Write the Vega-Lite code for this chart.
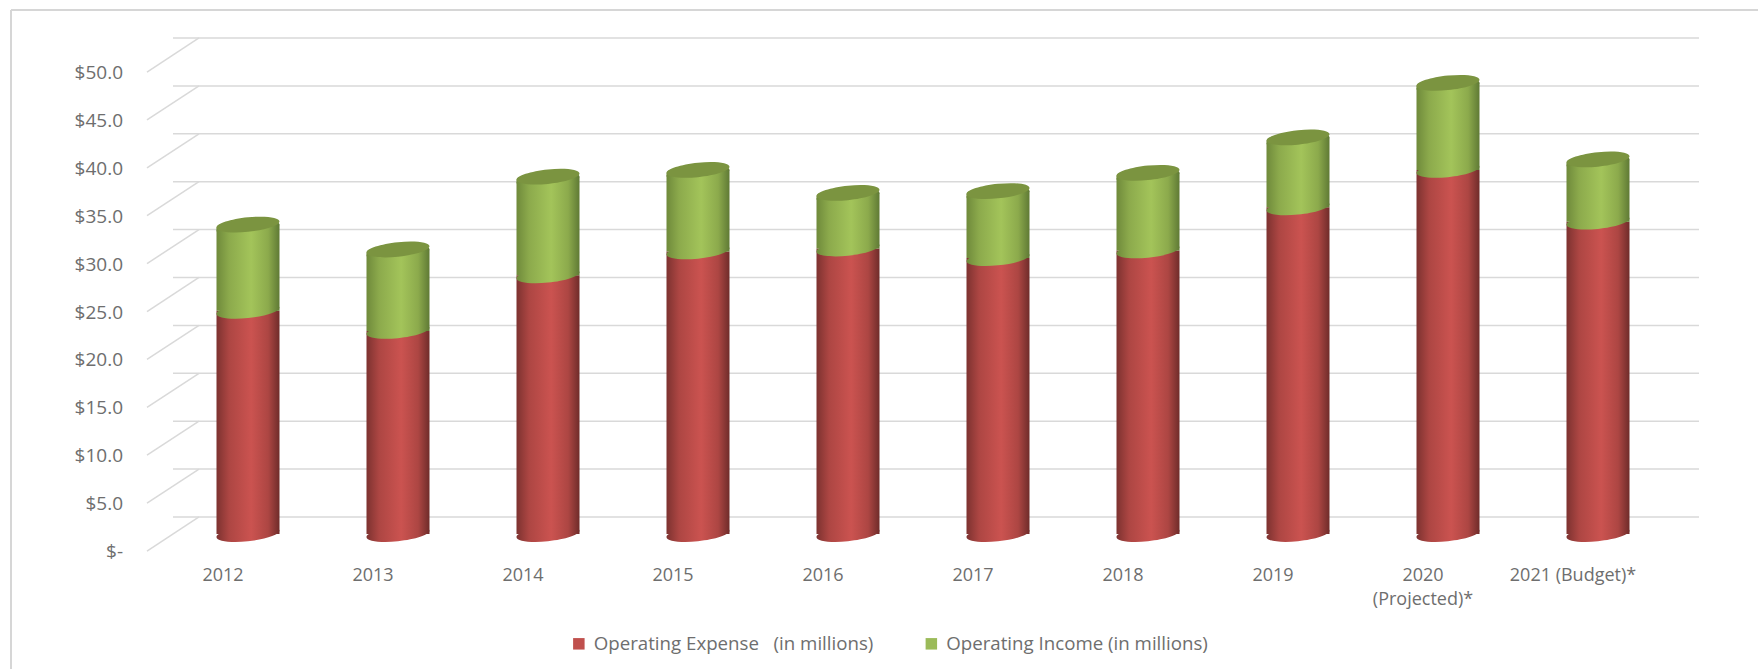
{
  "$schema": "https://vega.github.io/schema/vega-lite/v6.json",
  "width": 1500,
  "height": 479,
  "autosize": "none",
  "padding": {"left": 173, "top": 55, "right": 85, "bottom": 135},
  "background": "white",
  "config": {"view": {"stroke": null}, "font": "Open Sans"},
  "datasets": {
    "finance": [
      {"year": "2012", "expense": 23.3, "income": 9.0, "total": 32.3},
      {"year": "2013", "expense": 21.2, "income": 8.5, "total": 29.7},
      {"year": "2014", "expense": 27.0, "income": 10.3, "total": 37.3},
      {"year": "2015", "expense": 29.5, "income": 8.5, "total": 38.0},
      {"year": "2016", "expense": 29.8, "income": 5.8, "total": 35.6},
      {"year": "2017", "expense": 28.8, "income": 7.0, "total": 35.8},
      {"year": "2018", "expense": 29.6, "income": 8.1, "total": 37.7},
      {"year": "2019", "expense": 34.1, "income": 7.3, "total": 41.4},
      {"year": "2020 (Projected)*", "expense": 38.0, "income": 9.1, "total": 47.1},
      {"year": "2021 (Budget)*", "expense": 32.6, "income": 6.5, "total": 39.1}
    ],
    "levels": [
      {"level": 0}, {"level": 5}, {"level": 10}, {"level": 15}, {"level": 20}, {"level": 25},
      {"level": 30}, {"level": 35}, {"level": 40}, {"level": 45}, {"level": 50}
    ],
    "series": [
      {"series": "Operating Expense\u00a0\u00a0\u00a0(in millions)"},
      {"series": "Operating Income (in millions)"}
    ]
  },
  "data": {"name": "finance"},
  "layer": [
    {
      "data": {"name": "levels"},
      "mark": {"type": "rule", "color": "#d9d9d9", "strokeWidth": 1.5, "xOffset": 26, "x2Offset": 26, "yOffset": -17},
      "encoding": {"y": {"field": "level", "type": "quantitative", "scale": {"domain": [0, 50], "nice": false, "zero": false}, "axis": null}}
    },
    {
      "data": {"values": [{"edge": 54.7}]},
      "mark": {"type": "rule", "color": "#d6d6d6", "strokeWidth": 2, "xOffset": -162, "x2Offset": 160},
      "encoding": {
        "x": {"datum": "2012", "type": "nominal", "bandPosition": 0},
        "x2": {"datum": "2021 (Budget)*"},
        "y": {"field": "edge", "type": "quantitative"}
      }
    },
    {
      "data": {"values": [{"edge": 54.7}]},
      "mark": {"type": "rule", "color": "#d6d6d6", "strokeWidth": 2, "xOffset": -162},
      "encoding": {
        "x": {"datum": "2012", "type": "nominal", "bandPosition": 0},
        "y": {"field": "edge", "type": "quantitative"},
        "y2": {"datum": -15}
      }
    },
    {
      "mark": {"type": "bar", "width": 63, "fill": {"gradient": "linear", "x1": 0, "x2": 1, "y1": 0, "y2": 0, "stops": [{"offset": 0, "color": "#7d3230"}, {"offset": 0.2, "color": "#ad4643"}, {"offset": 0.55, "color": "#cb5350"}, {"offset": 0.82, "color": "#ad4643"}, {"offset": 1, "color": "#6f2c2a"}]}},
      "encoding": {
        "x": {
          "field": "year",
          "type": "nominal",
          "sort": null,
          "scale": {"domain": ["2012", "2013", "2014", "2015", "2016", "2017", "2018", "2019", "2020 (Projected)*", "2021 (Budget)*"], "paddingInner": 0, "paddingOuter": 0},
          "axis": {
            "title": null,
            "domain": false,
            "ticks": false,
            "grid": false,
            "bandPosition": 0.5,
            "labelAlign": "center",
            "labelAngle": 0,
            "labelFont": "Open Sans",
            "labelFontSize": 18,
            "labelColor": "#6e6e6e",
            "labelOffset": -25,
            "labelPadding": 32,
            "labelBaseline": "top",
            "labelLineHeight": 24,
            "labelLimit": 0,
            "labelOverlap": false,
            "labelExpr": "datum.label == '2020 (Projected)*' ? ['2020', '(Projected)*'] : datum.label"
          }
        },
        "y": {"field": "expense", "type": "quantitative"},
        "y2": {"datum": 0}
      }
    },
    {
      "data": {"name": "levels"},
      "mark": {"type": "point", "shape": "M-1,0.654L1,-0.654", "size": 2704, "filled": false, "stroke": "#d9d9d9", "strokeWidth": 1.5, "opacity": 1},
      "encoding": {
        "x": {"datum": "2012", "type": "nominal", "bandPosition": 0},
        "y": {"field": "level", "type": "quantitative"}
      }
    },
    {
      "data": {"name": "levels"},
      "mark": {"type": "text", "align": "right", "baseline": "middle", "font": "Open Sans", "fontSize": 19, "fill": "#6e6e6e", "dx": -50, "dy": 18},
      "encoding": {
        "x": {"datum": "2012", "type": "nominal", "bandPosition": 0},
        "y": {"field": "level", "type": "quantitative"},
        "text": {"condition": {"test": "datum.level === 0", "value": "$-\u00a0\u00a0"}, "field": "level", "type": "quantitative", "format": "$.1f"}
      }
    },
    {
      "mark": {"type": "point", "shape": "M-1,0.1C-1,-0.027,-0.5523,-0.1748,0,-0.23C0.5523,-0.2852,1,-0.227,1,-0.1C1,0.027,0.5523,0.1748,0,0.23C-0.5523,0.2852,-1,0.227,-1,0.1Z", "size": 3969, "filled": true, "opacity": 1, "fill": {"gradient": "linear", "x1": 0, "x2": 1, "y1": 0, "y2": 0, "stops": [{"offset": 0, "color": "#7d3230"}, {"offset": 0.2, "color": "#ad4643"}, {"offset": 0.55, "color": "#cb5350"}, {"offset": 0.82, "color": "#ad4643"}, {"offset": 1, "color": "#6f2c2a"}]}},
      "encoding": {"x": {"field": "year", "type": "nominal"}, "y": {"datum": 0, "type": "quantitative"}}
    },
    {
      "mark": {"type": "point", "shape": "M-1,0.1C-1,-0.027,-0.5523,-0.1748,0,-0.23C0.5523,-0.2852,1,-0.227,1,-0.1C1,0.027,0.5523,0.1748,0,0.23C-0.5523,0.2852,-1,0.227,-1,0.1Z", "size": 3969, "filled": true, "opacity": 1, "fill": {"gradient": "linear", "x1": 0, "x2": 1, "y1": 0, "y2": 0, "stops": [{"offset": 0, "color": "#6f8a3b"}, {"offset": 0.2, "color": "#8caa4c"}, {"offset": 0.55, "color": "#a3c45a"}, {"offset": 0.82, "color": "#8caa4c"}, {"offset": 1, "color": "#5f7a35"}]}},
      "encoding": {"x": {"field": "year", "type": "nominal"}, "y": {"field": "expense", "type": "quantitative"}}
    },
    {
      "mark": {"type": "bar", "width": 63, "cornerRadiusTopLeft": 4, "fill": {"gradient": "linear", "x1": 0, "x2": 1, "y1": 0, "y2": 0, "stops": [{"offset": 0, "color": "#6f8a3b"}, {"offset": 0.2, "color": "#8caa4c"}, {"offset": 0.55, "color": "#a3c45a"}, {"offset": 0.82, "color": "#8caa4c"}, {"offset": 1, "color": "#5f7a35"}]}},
      "encoding": {
        "x": {"field": "year", "type": "nominal"},
        "y": {"field": "expense", "type": "quantitative"},
        "y2": {"field": "total"}
      }
    },
    {
      "mark": {"type": "point", "shape": "M-1,0.1C-1,-0.027,-0.5523,-0.1748,0,-0.23C0.5523,-0.2852,1,-0.227,1,-0.1C1,0.027,0.5523,0.1748,0,0.23C-0.5523,0.2852,-1,0.227,-1,0.1Z", "size": 3969, "filled": true, "opacity": 1, "yOffset": 3, "fill": {"gradient": "linear", "x1": 0, "x2": 1, "y1": 0, "y2": 0, "stops": [{"offset": 0, "color": "#6f8a3b"}, {"offset": 0.2, "color": "#8caa4c"}, {"offset": 0.55, "color": "#a3c45a"}, {"offset": 0.82, "color": "#8caa4c"}, {"offset": 1, "color": "#5f7a35"}]}},
      "encoding": {"x": {"field": "year", "type": "nominal"}, "y": {"field": "total", "type": "quantitative"}}
    },
    {
      "mark": {"type": "point", "shape": "M-1,0.1C-1,-0.027,-0.5523,-0.1748,0,-0.23C0.5523,-0.2852,1,-0.227,1,-0.1C1,0.027,0.5523,0.1748,0,0.23C-0.5523,0.2852,-1,0.227,-1,0.1Z", "size": 3969, "filled": true, "opacity": 1, "fill": "#7b9440"},
      "encoding": {"x": {"field": "year", "type": "nominal"}, "y": {"field": "total", "type": "quantitative"}}
    },
    {
      "data": {"name": "series"},
      "mark": {"type": "point", "filled": true, "opacity": 0},
      "encoding": {
        "color": {
          "field": "series",
          "type": "nominal",
          "sort": null,
          "scale": {"range": ["#c0504d", "#9bbb59"]},
          "legend": {
            "title": null,
            "orient": "none",
            "direction": "horizontal",
            "columns": 2,
            "columnPadding": 48.5,
            "legendX": 396.5,
            "legendY": 579,
            "symbolType": "square",
            "symbolSize": 132,
            "symbolOpacity": 1,
            "symbolStrokeWidth": 0,
            "labelFont": "Open Sans",
            "labelFontSize": 18.7,
            "labelColor": "#6e6e6e",
            "labelLimit": 0,
            "labelOffset": 5.5
          }
        }
      }
    }
  ]
}
